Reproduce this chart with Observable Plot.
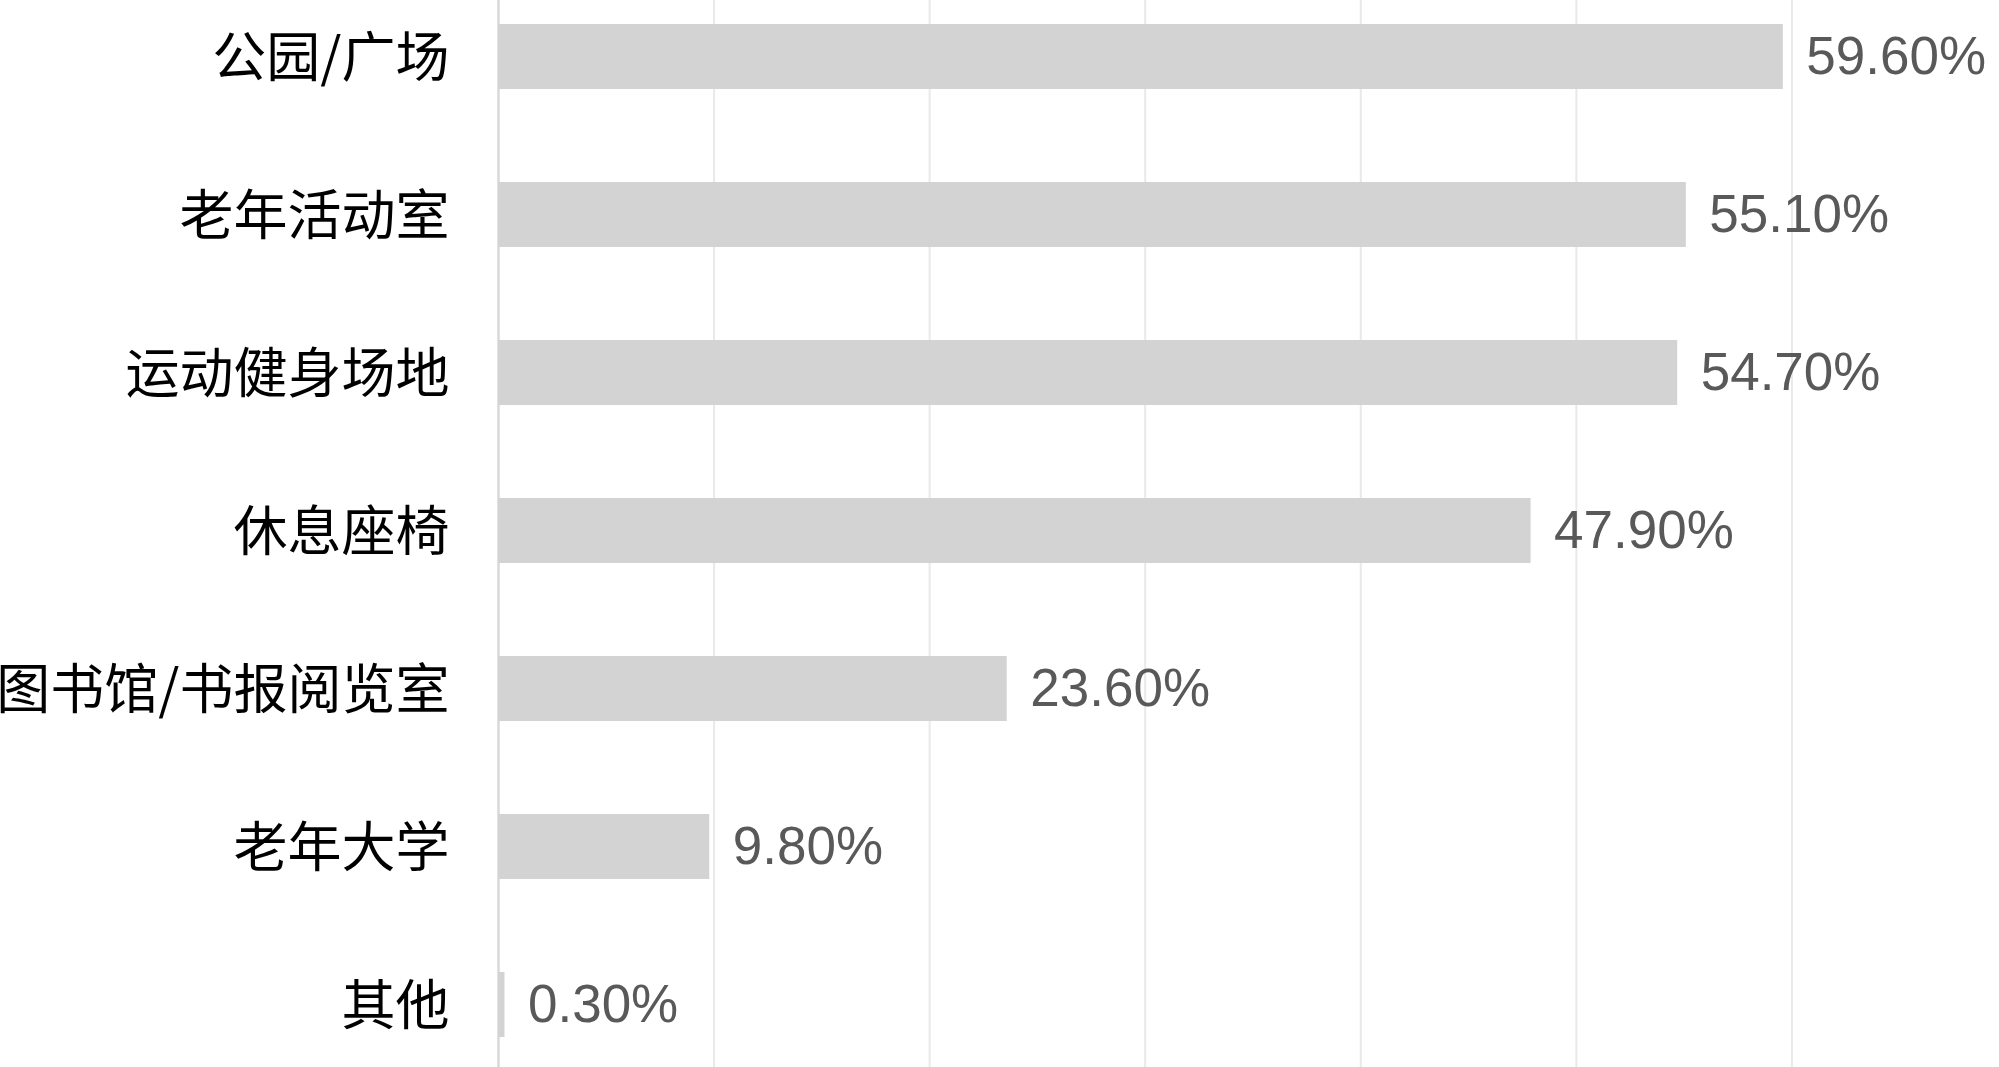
<!DOCTYPE html>
<html>
<head>
<meta charset="utf-8">
<script src="https://cdn.jsdelivr.net/npm/d3@7"></script>
<script src="https://cdn.jsdelivr.net/npm/@observablehq/plot@0.6"></script>
<style>
  html, body { margin: 0; padding: 0; background: #ffffff; }
  #chart svg { display: block; }
</style>
</head>
<body>
<div id="chart"></div>
<script>
const categories = ["公园/广场", "老年活动室", "运动健身场地", "休息座椅", "图书馆/书报阅览室", "老年大学", "其他"];
const values = [59.6, 55.1, 54.7, 47.9, 23.6, 9.8, 0.3];
const gridTicks = [10, 20, 30, 40, 50, 60];

const data = categories.map((c, i) => ({category: c, value: values[i], label: values[i].toFixed(2) + "%"}));

const chart = Plot.plot({
  width: 1999,
  height: 1067,
  marginLeft: 498,
  marginRight: 0,
  marginTop: 0,
  marginBottom: 0,
  style: {background: "#ffffff", overflow: "visible"},
  x: {domain: [0, 70], range: [498, 2007], axis: null},
  y: {domain: categories, range: [-0.5, 1061.5], paddingInner: 0.59, paddingOuter: 0.135, axis: null},
  marks: [
    Plot.ruleX(gridTicks, {stroke: "#e9e9e9", strokeWidth: 2}),
    Plot.ruleX([0], {stroke: "#d9d9d9", strokeWidth: 2.5}),
    Plot.barX(data, {y: "category", x: "value", fill: "#d3d3d3"}),
    Plot.text(data, {
      y: "category", x: "value", text: "label",
      textAnchor: "start", dx: 23, fill: "#595959",
      fontSize: 53, fontFamily: "Liberation Sans, Arial, sans-serif"
    }),
    Plot.axisY({
      tickSize: 0, tickPadding: 49, fontSize: 54, dy: 3,
      fill: "#000000", fontFamily: "Noto Sans CJK SC, sans-serif",
      label: null
    })
  ]
});
document.getElementById("chart").appendChild(chart);
</script>
</body>
</html>
